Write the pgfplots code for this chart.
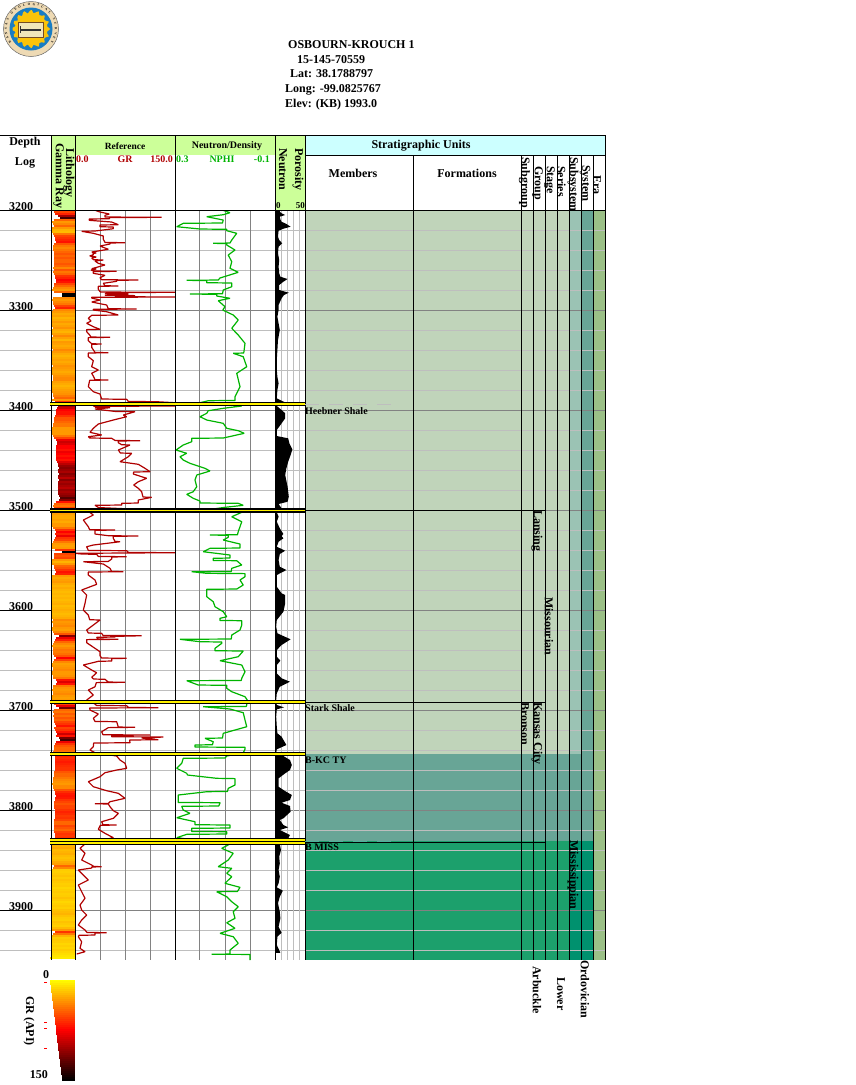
\documentclass[border=0pt]{standalone}
\usepackage{pgfplots}
\pgfplotsset{compat=1.18}
\usepackage{pgfplotstable}
\usepackage{fontspec}
\setmainfont{Liberation Serif}
\usetikzlibrary{decorations.text}

\definecolor{hdrgreen}{RGB}{204,255,153}
\definecolor{hdrcyan}{RGB}{204,255,255}
\definecolor{sage}{RGB}{192,212,186}
\definecolor{teal1}{RGB}{104,165,150}
\definecolor{teal2}{RGB}{155,195,180}
\definecolor{green1}{RGB}{28,160,108}
\definecolor{green2}{RGB}{0,145,110}
\definecolor{eracol}{RGB}{155,192,135}
\definecolor{grred}{RGB}{175,0,0}
\definecolor{nphigreen}{RGB}{0,180,0}
\definecolor{gridmaj}{RGB}{130,130,130}
\definecolor{gridmin}{RGB}{190,190,190}
\definecolor{sealtan}{RGB}{238,218,180}
\definecolor{sealblue}{RGB}{25,125,195}
\definecolor{sealgold}{RGB}{250,195,10}
\definecolor{sealbook}{RGB}{240,230,185}

\newcommand{\fs}[1]{\fontsize{#1}{#1}\selectfont\bfseries}
\newcommand{\lbl}[4][]{\node[inner sep=0pt,#1] at (#2pt,-#3pt) {#4};}
\newcommand{\vlbl}[4]{\node[inner sep=0pt,rotate=-90,anchor=west] at (#1pt,-#2pt) {\fs{#3}#4};}

\pgfplotsset{
  trk/.style={scale only axis,anchor=north west,y dir=reverse,
    ymin=3200,ymax=3950,height=750pt,
    axis line style={draw=none},tick style={draw=none},
    xticklabels={},yticklabels={},ytick=\empty},
  grcmap/.style={colormap={gr}{rgb255=(255,255,0) rgb255=(255,0,0) rgb255=(0,0,0)},
    point meta min=0,point meta max=150},
}

% GR curve, depth in ft, API
\pgfplotstableread[row sep=\\]{
depth gr\\
3200 29\\3202 37.5\\3204 51.5\\3205.3 45\\3207 45\\3207.3 130\\3207.6 52\\3208.7 51.5\\3209 21.5\\3210.3 21.5\\3212 55\\3214.7 65\\3215 37.5\\3216.7 37.5\\3217 57.5\\3218.7 57.5\\3221 30\\3221.3 10\\3223.3 27.5\\3226 42.5\\3229.3 42.5\\3232.4 45\\3232.7 75\\3233 52.5\\3234 52.5\\3236 37.5\\3239.3 50\\3242 25\\3243 32\\3243.5 27\\3244.7 27.5\\3246 22\\3247 32\\3248 25\\3249.7 28\\3250 42.5\\3251 30\\3253.3 35\\3255 45\\3258.7 25\\3259 32\\3260 24\\3261 30\\3261.3 62.5\\3261.6 27.5\\3263.3 27.5\\3265.3 45\\3267.7 37.5\\3269.7 40\\3270 95\\3270.3 62.5\\3271.3 62.5\\3273.3 42.5\\3275.7 45\\3276 65\\3276.3 35\\3279.3 35\\3282 38\\3282.3 150\\3282.6 47.5\\3283.2 70\\3283.6 45\\3284 80\\3284.4 50\\3284.8 72\\3285.2 45\\3285.6 90\\3286 60\\3286.7 70\\3287 150\\3287.3 25\\3288 25\\3290 37.5\\3292 25\\3295 47.5\\3298.7 50\\3299 92.5\\3299.3 27.5\\3300 27.5\\3301.7 47.5\\3305 65\\3305.3 25\\3308.3 20\\3311 24\\3313.3 17.5\\3316.7 27.5\\3319.3 37.5\\3319.6 17.5\\3321.7 17.5\\3325 22\\3327 24\\3327.3 52.5\\3327.6 20\\3330.7 20\\3333.7 25\\3334 40\\3334.3 25\\3337.3 25\\3342.4 30\\3342.7 50\\3343 20\\3346.7 20\\3350.7 27.5\\3356.7 25\\3360 35\\3363.3 25\\3366.7 28\\3369.7 30\\3370 50\\3370.3 22\\3376.7 20\\3381.7 27.5\\3384 37.5\\3389 40\\3389.3 77.5\\3391.4 80\\3391.7 122.5\\3392.7 150\\3393.5 1\\
3396 150\\3396.3 27.5\\3396.7 52.5\\3397.2 30\\3397.7 52.5\\3399 30\\3401.4 60\\3401.7 90\\3405 72.5\\3406.7 77.5\\3410 57.5\\3414 35\\3418.3 27.5\\3422.3 22.5\\3425 40\\3426.7 20\\3428 22\\3428.3 55\\3430.4 60\\3430.7 97.5\\3431 65\\3432.7 65\\3434.7 70\\3435 82.5\\3440 65\\3443 68\\3443.3 85\\3446.7 80\\3451.7 67.5\\3454.3 95\\3458.3 105\\3461.7 112.5\\3462 88\\3464 87.5\\3468.3 107.5\\3471.7 95\\3475 88\\3478.3 95\\3481.7 100\\3487 102\\3487.3 115\\3490 95\\3493 95\\3493.3 70\\3495 70\\3495.3 30\\3497.4 35\\3497.7 40\\3498.7 75\\
3502 75\\3502.3 22\\3505 27.5\\3510 12.5\\3516.7 20\\3519.7 22\\3520 60\\3520.3 30\\3524 30\\3525.7 50\\3526 95\\3526.3 57.5\\3528.3 57.5\\3531.4 60\\3531.7 67.5\\3535 27.5\\3536.7 17.5\\3540.4 20\\3540.7 77.5\\3542.4 80\\3542.7 150\\3543.3 0\\3544 10\\3544.3 32.5\\3546.4 35\\3546.7 77.5\\3547 55\\3549 55\\3551.4 50\\3551.7 12.5\\3554 42.5\\3558.3 52.5\\3561.4 55\\3561.7 72.5\\3562 20\\3565 20\\3570 30\\3574.3 32.5\\3580 10\\3585 17.5\\3593.3 15\\3600 12.5\\3605 20\\3609.7 22\\3610 37.5\\3615 27.5\\3620 17.5\\3623 20\\3623.3 40\\3625.4 42\\3625.7 100\\3626 85\\3626.3 60\\3627 60\\3627.3 32.5\\3629 35\\3629.3 65\\3629.6 17.5\\3632.7 17.5\\3638.3 30\\3641.7 37.5\\3645.7 37.5\\3648 40\\3648.3 77.5\\3648.6 55\\3651 55\\3651.3 35\\3655 12.5\\3660 25\\3662.7 32.5\\3667.3 25\\3669 28\\3669.3 45\\3672 50\\3672.3 75\\3672.6 32\\3676.7 30\\3680 20\\3685 27.5\\3690 17.5\\
3694 30\\3695.4 32\\3695.7 77.5\\3697.4 80\\3697.7 125\\3698 22\\3700 22.5\\3704 35\\3708.3 27.5\\3711.4 30\\3711.7 62.5\\3717 65\\3717.3 90\\3717.6 50\\3721.7 40\\3724.7 42\\3725 112.5\\3725.3 55\\3726.7 55\\3727 132.5\\3728 100\\3729.7 125\\3730 82\\3732.7 82.5\\3733 28\\3736.7 27.5\\3740 22.5\\3742.7 30\\
3746 62.5\\3750 67.5\\3753.3 75\\3758.3 77.5\\3760 62.5\\3762.7 45\\3766.7 37.5\\3771.7 20\\3776.7 27.5\\3780.7 47.5\\3783.3 65\\3788.3 75\\3791.7 52.5\\3793.4 50\\3793.7 30\\3794 50\\3796.7 52.5\\3800.7 57.5\\3803.3 65\\3808.3 57.5\\3811.7 40\\3814.7 42\\3815 62.5\\3815.3 38\\3819.3 35\\3823.3 45\\3827.7 57.5\\
3834 15\\3838.3 7.5\\3843.3 15\\3850 10\\3855 25\\3856.4 28\\3856.7 40\\3857 25\\3858 25\\3860 5\\3865 12.5\\3870 20\\3875 5\\3881.7 10\\3888.3 15\\3895 7.5\\3900 10\\3905 17.5\\3910 10\\3915 5\\3920 15\\3922.4 18\\3922.7 47.5\\3923 30\\3925 30\\3925.3 6\\3926.7 5\\3931.7 10\\3938.3 7.5\\3941.7 15\\3944 2.5\\
}\grtable

% NPHI curve, depth in ft, fraction
\pgfplotstableread[row sep=\\]{
depth nphi\\
3200 .111\\3202.7 .08\\3204.7 .107\\3206.7 .173\\3210 .107\\3213 .11\\3213.3 .267\\3216.7 .293\\3219 .2\\3219.3 .093\\3220.7 .093\\3223.3 .053\\3230 .073\\3233 .08\\3233.3 .147\\3233.6 .093\\3235 .093\\3240 .06\\3245 .087\\3251.7 .073\\3258.3 .08\\3262.3 .047\\3268 .12\\3270 .127\\3270.3 .253\\3270.6 .173\\3272.7 .173\\3273 .073\\3276.7 .073\\3280 .107\\3283.7 .11\\3284 .24\\3284.3 .133\\3286 .133\\3288.3 .08\\3290.7 .127\\3296.7 .1\\3300 .109\\3305 .067\\3310 .047\\3318.3 .073\\3325 .047\\3333.3 .02\\3343 .025\\3343.3 .067\\3346.7 .027\\3356.7 .013\\3363.3 .053\\3376.7 .04\\3386.7 .06\\3390.4 .06\\3390.7 .167\\3392.7 .2\\
3396 .033\\3398.3 .107\\3400.7 .167\\3403.3 .173\\3406.7 .2\\3410 .173\\3413.3 .107\\3418.3 .093\\3420.7 .047\\3423.3 .023\\3428 .107\\3428.3 .233\\3431.7 .233\\3435 .267\\3440 .296\\3443.3 .253\\3446.7 .28\\3450 .267\\3453.3 .24\\3458.3 .18\\3461 .16\\3465 .213\\3470 .22\\3476.7 .213\\3481.7 .227\\3484.3 .253\\3488.3 .227\\3491 .2\\3493 .2\\3493.3 .047\\3495.3 .027\\3497.3 .1\\3498.7 .14\\
3502.3 .033\\3506.7 .073\\3511.7 .033\\3516.7 .04\\3521.7 .047\\3524.7 .05\\3525 .16\\3525.3 .087\\3527.3 .087\\3530 .107\\3534 .04\\3538 .04\\3538.3 .16\\3541.7 .187\\3545 .08\\3548 .08\\3548.3 .147\\3550.4 .147\\3550.7 .053\\3555 .033\\3558.3 .073\\3561.4 .075\\3561.7 .233\\3563.3 .173\\3563.6 .02\\3566.7 .02\\3570 .04\\3575 .027\\3579 .053\\3579.3 .173\\3586.7 .173\\3591.7 .147\\3596.7 .14\\3601.7 .107\\3606.7 .093\\3608.3 .12\\3610.4 .12\\3610.7 .033\\3615 .033\\3620 .04\\3625 .073\\3629 .075\\3629.3 .28\\3631.7 .2\\3632 .113\\3633.3 .113\\3638.3 .14\\3640.7 .14\\3641 .027\\3646.7 .047\\3650.7 .12\\3655 .033\\3661.7 .02\\3668.3 .033\\3670.4 .035\\3670.7 .253\\3675 .207\\3675.3 .093\\3678.3 .093\\3681.7 .073\\3686.7 .02\\3690 .011\\
3695 .013\\3696.4 .015\\3696.7 .187\\3699 .08\\3702.7 .027\\3710 .02\\3716.7 .013\\3723.3 .107\\3728 .11\\3728.3 .18\\3731.7 .147\\3734.7 .15\\3735 .22\\3737 .22\\3737.3 .02\\3739.3 .02\\3742.7 .027\\
3746 .093\\3748 .1\\3748.3 .267\\3753.3 .273\\3758.3 .293\\3763.3 .253\\3765 .25\\3768.3 .133\\3768.6 .06\\3775 .06\\3778.3 .087\\3781.4 .09\\3781.7 .173\\3785 .287\\3790 .287\\3792.4 .287\\3792.7 .12\\3793 .12\\3796 .125\\3796.3 .273\\3800 .267\\3803.3 .24\\3807.7 .293\\3811.7 .22\\3814.7 .22\\3815 .08\\3818 .08\\3818.3 .233\\3821.4 .233\\3821.7 .093\\3824 .093\\3824.3 .253\\3827.7 .293\\
3834 .08\\3838.3 .113\\3843.3 .067\\3850 .087\\3856.7 .127\\3858.3 .073\\3863.3 .093\\3866.7 .073\\3873.3 .1\\3877.3 .04\\3881.4 .05\\3881.7 .133\\3886.7 .093\\3891.7 .073\\3896.7 .047\\3901.7 .067\\3908.3 .06\\3912.7 .093\\3918.3 .06\\3923.3 .12\\3926.7 .067\\3933.3 .047\\3940 .08\\3944 .08\\3944.3 .153\\3944.4 0\\3950 0\\
}\nphitable

% neutron porosity, depth in ft, percent (first and last row on the zero line)
\pgfplotstableread[row sep=\\]{
depth phi\\
3200 0\\3200.1 8\\3201.7 8\\3203.3 11\\3205 17\\3206.7 8\\3209.3 9\\3211.7 11\\3214 19\\3216.7 26\\3218.7 14\\3220.7 6\\3226.7 5\\3230 7\\3233.3 12\\3236.7 6\\3243.3 5\\3250 7\\3256.7 6\\3263.3 7\\3266.7 9\\3269 21\\3271.7 14\\3275 7\\3280 7\\3282.7 23\\3285 15\\3288.3 11\\3295 6\\3300 6\\3306.7 4\\3313.3 6\\3320 8\\3330 5\\3340 4\\3350 3\\3360 3\\3366.7 4\\3373.3 6\\3380 4\\3388.3 3\\3390.7 11\\3392.7 18\\3394 17\\
3396 3\\3400 11\\3403.3 17\\3408.3 17\\3413.3 11\\3420 3\\3426 3\\3428.3 22\\3433.3 24\\3439.3 29\\3445 26\\3451.7 22\\3458.3 19\\3465 17\\3476.7 21\\3486.7 23\\3491.7 21\\3494 6\\3498.3 11\\
3502.3 3\\3506.7 6\\3511.7 3\\3518.3 8\\3524 14\\3526 11\\3528.3 14\\3531.7 6\\3536.7 3\\3540.7 17\\3544 8\\3550 6\\3556.7 8\\3560 19\\3565 3\\3576.7 3\\3583.3 11\\3585 17\\3593.3 17\\3601.7 14\\3610 3\\3616.7 2\\3623.3 4\\3629.3 26\\3635 11\\3640 3\\3646.7 3\\3650.7 9\\3655 3\\3663.3 3\\3668.3 11\\3671.7 25\\3676.7 8\\3683.3 3\\3690 2\\
3695 3\\3697.3 15\\3699.3 3\\3706.7 2\\3716.7 3\\3723.3 4\\3726.7 11\\3735 19\\3739.3 3\\3742.7 2\\
3746 14\\3750 25\\3755 28\\3760 25\\3763.3 17\\3768.3 6\\3776.7 6\\3780 14\\3785 28\\3790 25\\3792.7 11\\3796 25\\3801.7 26\\3808.3 14\\3810 8\\3815 14\\3817.3 22\\3820 8\\3825 25\\3828.3 22\\
3834 8\\3840 10\\3846.7 7\\3853.3 8\\3860 6\\3866.7 8\\3873.3 6\\3877.3 3\\3880.7 13\\3886.7 8\\3893.3 5\\3901.7 8\\3908.3 9\\3916.7 6\\3922.7 11\\3926.7 4\\3935 3\\3942.7 9\\3943 0\\
}\neutable

% lithology strip, GR sampled every 2 ft
\pgfplotstableread[row sep=\\]{
depth gr\\
3200 40\\3202 55\\3204 65\\3206 100\\3208 130\\3210 45\\3212 30\\3214 35\\3216 45\\3218 30\\3220 22\\3222 20\\3224 40\\3226 55\\3228 60\\3230 65\\3232 70\\3234 50\\3236 40\\3238 35\\3240 40\\3242 45\\3244 50\\3246 45\\3248 50\\3250 45\\3252 45\\3254 50\\3256 45\\3258 35\\3260 50\\3262 40\\3264 45\\3266 60\\3268 65\\3270 75\\3272 70\\3274 55\\3276 45\\3278 35\\3280 30\\3282 45\\3284 150\\3286 150\\3288 35\\3290 30\\3292 35\\3294 40\\3296 55\\3298 65\\
3300 35\\3302 30\\3304 25\\3306 28\\3308 22\\3310 25\\3312 30\\3314 25\\3316 28\\3318 32\\3320 25\\3322 22\\3324 28\\3326 35\\3328 28\\3330 22\\3332 30\\3334 28\\3336 25\\3338 28\\3340 35\\3342 30\\3344 25\\3346 22\\3348 25\\3350 28\\3352 25\\3354 28\\3356 32\\3358 30\\3360 28\\3362 25\\3364 28\\3366 32\\3368 35\\3370 35\\3372 28\\3374 25\\3376 22\\3378 25\\3380 28\\3382 30\\3384 32\\3386 38\\3388 45\\3390 30\\3392 60\\3394 140\\3396 100\\3398 90\\
3400 75\\3402 70\\3404 70\\3406 60\\3408 50\\3410 50\\3412 45\\3414 40\\3416 40\\3418 30\\3420 30\\3422 30\\3424 30\\3426 40\\3428 55\\3430 80\\3432 90\\3434 85\\3436 75\\3438 75\\3440 70\\3442 80\\3444 75\\3446 70\\3448 75\\3450 70\\3452 85\\3454 95\\3456 105\\3458 110\\3460 105\\3462 100\\3464 110\\3466 105\\3468 95\\3470 110\\3472 100\\3474 105\\3476 100\\3478 95\\3480 105\\3482 100\\3484 105\\3486 110\\3488 125\\3490 110\\3492 70\\3494 45\\3496 40\\3498 55\\
3500 50\\3502 30\\3504 28\\3506 25\\3508 25\\3510 28\\3512 25\\3514 30\\3516 30\\3518 40\\3520 60\\3522 75\\3524 65\\3526 80\\3528 60\\3530 55\\3532 40\\3534 30\\3536 28\\3538 30\\3540 60\\3542 150\\3544 55\\3546 50\\3548 55\\3550 30\\3552 22\\3554 30\\3556 45\\3558 50\\3560 60\\3562 70\\3564 65\\3566 30\\3568 25\\3570 28\\3572 30\\3574 25\\3576 22\\3578 25\\
3580 22\\3582 20\\3584 22\\3586 20\\3588 22\\3590 20\\3592 22\\3594 24\\3596 20\\3598 22\\3600 24\\3602 22\\3604 20\\3606 22\\3608 25\\3610 35\\3612 30\\3614 32\\3616 35\\3618 30\\3620 28\\3622 35\\3624 50\\3626 110\\3628 80\\3630 65\\3632 45\\3634 35\\3636 30\\3638 35\\3640 40\\3642 38\\3644 42\\3646 50\\3648 75\\3650 55\\3652 35\\3654 28\\3656 30\\3658 32\\3660 35\\3662 30\\3664 30\\3666 32\\3668 40\\3670 70\\3672 85\\3674 70\\3676 40\\3678 32\\3680 30\\3682 32\\3684 35\\3686 30\\3688 28\\3690 30\\
3692 40\\3694 55\\3696 80\\3698 115\\3700 45\\3702 40\\3704 48\\3706 42\\3708 50\\3710 45\\3712 55\\3714 60\\3716 70\\3718 55\\3720 60\\3722 70\\3724 90\\3726 70\\3728 115\\3730 130\\3732 80\\3734 60\\3736 50\\3738 45\\3740 45\\3742 40\\
3744 60\\3746 65\\3748 62\\3750 65\\3752 68\\3754 65\\3756 62\\3758 60\\3760 60\\3762 50\\3764 45\\3766 45\\3768 40\\3770 35\\3772 32\\3774 30\\3776 35\\3778 35\\3780 50\\3782 62\\3784 68\\3786 70\\3788 68\\3790 60\\3792 55\\3794 50\\3796 55\\3798 55\\3800 60\\3802 65\\3804 62\\3806 58\\3808 60\\3810 55\\3812 45\\3814 45\\3816 55\\3818 50\\3820 45\\3822 55\\3824 60\\3826 58\\3828 60\\3830 55\\
3832 22\\3834 20\\3836 22\\3838 25\\3840 20\\3842 22\\3844 24\\3846 20\\3848 18\\3850 20\\3852 25\\3854 28\\3856 45\\3858 35\\3860 15\\3862 14\\3864 16\\3866 18\\3868 15\\3870 18\\3872 16\\3874 14\\3876 15\\3878 12\\3880 14\\3882 16\\3884 14\\3886 15\\3888 18\\3890 15\\3892 12\\3894 14\\3896 16\\3898 14\\3900 18\\3902 20\\3904 22\\3906 18\\3908 15\\3910 14\\3912 18\\3914 16\\3916 14\\3918 20\\3920 30\\3922 60\\3924 40\\3926 22\\3928 14\\3930 16\\3932 15\\3934 12\\3936 14\\3938 12\\3940 15\\3942 12\\3944 10\\3946 8\\3948 6\\
}\lithtable

% colour key
\pgfplotstableread[row sep=\\]{
gr\\
0\\3\\6\\9\\12\\15\\18\\21\\24\\27\\30\\33\\36\\39\\42\\45\\48\\51\\54\\57\\60\\63\\66\\69\\72\\75\\78\\81\\84\\87\\90\\93\\96\\99\\102\\105\\108\\111\\114\\117\\120\\123\\126\\129\\132\\135\\138\\141\\144\\147\\150\\
}\keytable

\begin{document}
\begin{tikzpicture}
\path[use as bounding box] (0pt,0pt) rectangle (855pt,-1085pt);

% header fills
\fill[hdrgreen] (51pt,-135pt) rectangle (305pt,-155pt);
\fill[hdrgreen] (51pt,-155pt) rectangle (75pt,-210pt);
\fill[hdrgreen] (275pt,-155pt) rectangle (305pt,-210pt);
\fill[hdrcyan] (305pt,-135pt) rectangle (605pt,-155pt);

% stratigraphic colour columns
\begin{axis}[trk,at={(305pt,-210pt)},width=300pt,xmin=305,xmax=605,xtick=\empty]
\addplot[fill=sage,draw=none] coordinates {(305,3200)(569,3200)(569,3744)(305,3744)} --cycle;
\addplot[fill=teal1,draw=none] coordinates {(305,3744)(569,3744)(569,3831)(305,3831)} --cycle;
\addplot[fill=green1,draw=none] coordinates {(305,3831)(569,3831)(569,3950)(305,3950)} --cycle;
\addplot[fill=teal2,draw=none] coordinates {(569,3200)(581,3200)(581,3744)(569,3744)} --cycle;
\addplot[fill=teal1,draw=none] coordinates {(569,3744)(593,3744)(593,3831)(569,3831)} --cycle;
\addplot[fill=teal1,draw=none] coordinates {(581,3200)(593,3200)(593,3744)(581,3744)} --cycle;
\addplot[fill=green2,draw=none] coordinates {(569,3831)(593,3831)(593,3950)(569,3950)} --cycle;
\addplot[fill=eracol,draw=none] coordinates {(593,3200)(605,3200)(605,3950)(593,3950)} --cycle;
\end{axis}

% depth grid across the whole log
\begin{axis}[trk,at={(0pt,-210pt)},width=605pt,xmin=0,xmax=605,xtick=\empty,
  ytick={3300,3400,...,3900},minor ytick={3220,3240,...,3940},
  ymajorgrids,yminorgrids,
  major grid style={gridmaj,line width=1pt},minor grid style={gridmin,line width=1pt}]
\addplot[draw=none] coordinates {(0,3200)(605,3950)};
\end{axis}

% depth labels
\begin{axis}[trk,at={(0pt,-210pt)},width=51pt,xmin=0,xmax=51,xtick=\empty,
  ytick={3200,3300,...,3900},ymajorgrids,major grid style={black,line width=1pt},
  yticklabels={3200,3300,3400,3500,3600,3700,3800,3900},
  yticklabel style={anchor=south west,xshift=9pt,yshift=-1pt,inner sep=0pt,font=\fs{12}}]
\addplot[draw=none] coordinates {(0,3200)(51,3950)};
\end{axis}

% lithology strip
\begin{axis}[trk,grcmap,at={(50pt,-210pt)},width=25pt,xmin=0,xmax=25,xtick=\empty]
\addplot[point meta=\thisrow{gr},
  quiver={u={25-12*\thisrow{gr}/150},v=0,
    every arrow/.append style={-,line width=2.2pt,draw=mapped color}}]
  table[x expr={12*\thisrow{gr}/150},y=depth] {\lithtable};
\end{axis}

% GR track
\begin{axis}[trk,at={(75pt,-210pt)},width=100pt,xmin=0,xmax=150,
  xtick={37.5,75,112.5},xmajorgrids,major grid style={gridmaj,line width=1pt}]
\addplot[grred,line width=1.2pt,mark=none,line join=bevel] table[x=gr,y=depth] {\grtable};
\end{axis}

% NPHI track
\begin{axis}[trk,at={(175pt,-210pt)},width=100pt,x dir=reverse,xmin=-0.1,xmax=0.3,
  xtick={0.2,0.1,0},xmajorgrids,major grid style={gridmaj,line width=1pt}]
\addplot[nphigreen,line width=1.2pt,mark=none,line join=bevel] table[x=nphi,y=depth] {\nphitable};
\end{axis}

% neutron porosity track
\begin{axis}[trk,at={(275pt,-210pt)},width=30pt,xmin=0,xmax=50,
  xtick={10,20,30,40},xmajorgrids,major grid style={gridmin,line width=1pt}]
\addplot[fill=black,draw=none] table[x=phi,y=depth] {\neutable} --cycle;
\end{axis}

% frame
\draw[black,line width=1pt] (0pt,-135pt) -- (605pt,-135pt);
\draw[black,line width=1pt] (0pt,-210pt) -- (605pt,-210pt);
\draw[black,line width=1pt] (305pt,-155pt) -- (605pt,-155pt);
\foreach \xx in {51,75,175,275,305,605}
  \draw[black,line width=1pt] (\xx pt,-135pt) -- (\xx pt,-960pt);
\foreach \xx in {413,521,533,545,557,569,581,593}
  \draw[black,line width=1pt] (\xx pt,-155pt) -- (\xx pt,-960pt);

% formation tops
\begin{axis}[trk,at={(0pt,-210pt)},width=605pt,xmin=0,xmax=605,xtick=\empty,clip=false]
\addplot[gridmin,dash pattern=on 14pt off 10pt,line width=1pt] coordinates {(305,3394)(392,3394)};
\addplot[green2!70!white,dash pattern=on 14pt off 10pt,line width=1pt] coordinates {(305,3831)(392,3831)};
\addplot[black,line width=1pt] coordinates {(305,3500.5)(545,3500.5)};
\addplot[black,line width=1pt] coordinates {(305,3692)(545,3692)};
\addplot[black,line width=1pt] coordinates {(305,3832)(545,3832)};
\addplot[black,line width=4.6pt] coordinates {(50,3394)(305,3394)};
\addplot[yellow,line width=1.8pt] coordinates {(50,3394)(305,3394)};
\addplot[black,line width=4.6pt] coordinates {(50,3500.5)(305,3500.5)};
\addplot[yellow,line width=1.8pt] coordinates {(50,3500.5)(305,3500.5)};
\addplot[black,line width=4.6pt] coordinates {(50,3692)(305,3692)};
\addplot[yellow,line width=1.8pt] coordinates {(50,3692)(305,3692)};
\addplot[black,line width=4.6pt] coordinates {(50,3744)(305,3744)};
\addplot[yellow,line width=1.8pt] coordinates {(50,3744)(305,3744)};
\addplot[black,line width=4.4pt] coordinates {(50,3830)(305,3830)};
\addplot[black,line width=4.4pt] coordinates {(50,3833)(305,3833)};
\addplot[yellow,line width=1.5pt] coordinates {(50,3830)(305,3830)};
\addplot[yellow,line width=1.5pt] coordinates {(50,3833)(305,3833)};
\end{axis}

% colour key
\begin{axis}[scale only axis,anchor=north west,at={(44pt,-980pt)},width=31pt,height=100pt,grcmap,
  y dir=reverse,xmin=-6,xmax=25,ymin=0,ymax=150,
  axis line style={draw=none},xtick=\empty,ytick={3,63,72,102},yticklabels={},
  tick align=inside,major tick length=3pt,tick style={draw=red,line width=0.8pt},
  ytick pos=left]
\addplot[point meta=\thisrow{gr},
  quiver={u={25-12*\thisrow{gr}/150},v=0,
    every arrow/.append style={-,line width=2.2pt,draw=mapped color}}]
  table[x expr={12*\thisrow{gr}/150},y=gr] {\keytable};
\end{axis}

% logo
\fill[sealtan,draw=black!60,line width=0.5pt] (31pt,-29pt) circle (27.5pt);
\fill[sealblue] (31pt,-29pt) circle (21.5pt);
\fill[sealgold] plot[smooth cycle,samples=49,domain=0:352.5,variable=\t]
  ({(31+(17.5+1.8*cos(16*\t))*cos(\t))*1pt},{(-29+(17.5+1.8*cos(16*\t))*sin(\t))*1pt});
\fill[sealbook,draw=brown!60!black,line width=0.3pt] (18pt,-22pt) rectangle (43pt,-37pt);
\draw[black!80,line width=1.2pt] (21pt,-30pt) -- (41pt,-30pt);
\draw[black!80,line width=1pt] (20pt,-26pt) -- (20pt,-33pt);
\path[postaction={decorate,decoration={text along path,text align=fit to path,
    text={|\fontsize{3.2}{4}\selectfont\bfseries|KANSAS GEOLOGICAL SURVEY}}}]
  (11.3pt,-42.8pt) arc[start angle=215,end angle=-35,radius=24pt];

% title block
\lbl[anchor=west]{288}{45}{\fs{12}OSBOURN-KROUCH 1}
\lbl[anchor=west]{297}{59.5}{\fs{12}15-145-70559}
\lbl[anchor=west]{290}{74}{\fs{12}Lat: 38.1788797}
\lbl[anchor=west]{285}{89.5}{\fs{12}Long: -99.0825767}
\lbl[anchor=west]{285}{104.5}{\fs{12}Elev: (KB) 1993.0}

% headers
\lbl{25}{142.5}{\fs{12}Depth}
\lbl{25}{162.5}{\fs{12}Log}
\lbl{125}{146}{\fs{9.5}Reference}
\lbl{227}{146}{\fs{10}Neutron/Density}
\lbl[anchor=west]{76}{159.5}{\fs{10}\color{grred}0.0}
\lbl{125}{159.5}{\fs{10}\color{grred}GR}
\lbl[anchor=east]{173}{159.5}{\fs{10}\color{grred}150.0}
\lbl[anchor=west]{176}{159.5}{\fs{10}\color{nphigreen}0.3}
\lbl{222}{159.5}{\fs{10}\color{nphigreen}NPHI}
\lbl[anchor=east]{270}{159.5}{\fs{10}\color{nphigreen}-0.1}
\lbl[anchor=west]{276}{205.5}{\fs{9}0}
\lbl[anchor=east]{305}{205.5}{\fs{9}50}
\lbl{421}{146}{\fs{12}Stratigraphic Units}
\lbl{353}{173}{\fs{12}Members}
\lbl{467}{173}{\fs{12}Formations}

\vlbl{69}{148}{12}{Lithology}
\vlbl{58.5}{143}{12}{Gamma Ray}
\vlbl{283}{148}{12}{Neutron}
\vlbl{298}{148}{12}{Porosity}
\vlbl{524.5}{157}{12}{Subgroup}
\vlbl{537.5}{166}{12}{Group}
\vlbl{549.5}{166}{12}{Stage}
\vlbl{561.5}{166}{12}{Series}
\vlbl{573}{157}{12}{Subsystem}
\vlbl{585}{165}{12}{System}
\vlbl{597}{175}{12}{Era}

% members
\lbl[anchor=west]{305}{411}{\fs{10}Heebner Shale}
\lbl[anchor=west]{305}{708.5}{\fs{10}Stark Shale}
\lbl[anchor=west]{305}{760.5}{\fs{10}B-KC TY}
\lbl[anchor=west]{305}{847}{\fs{10}B MISS}

\vlbl{537}{510}{12}{Lansing}
\vlbl{549}{597}{12}{Missourian}
\vlbl{537}{702}{12}{Kansas City}
\vlbl{525}{702}{12}{Bronson}
\vlbl{573}{840}{12}{Mississippian}
\vlbl{537}{966}{12}{Arbuckle}
\vlbl{561}{977}{12}{Lower}
\vlbl{585}{960}{12}{Ordovician}

% key labels
\lbl{46}{975}{\fs{12}0}
\lbl{39}{1075}{\fs{12}150}
\vlbl{29}{996}{12}{GR (API)}
\end{tikzpicture}
\end{document}
